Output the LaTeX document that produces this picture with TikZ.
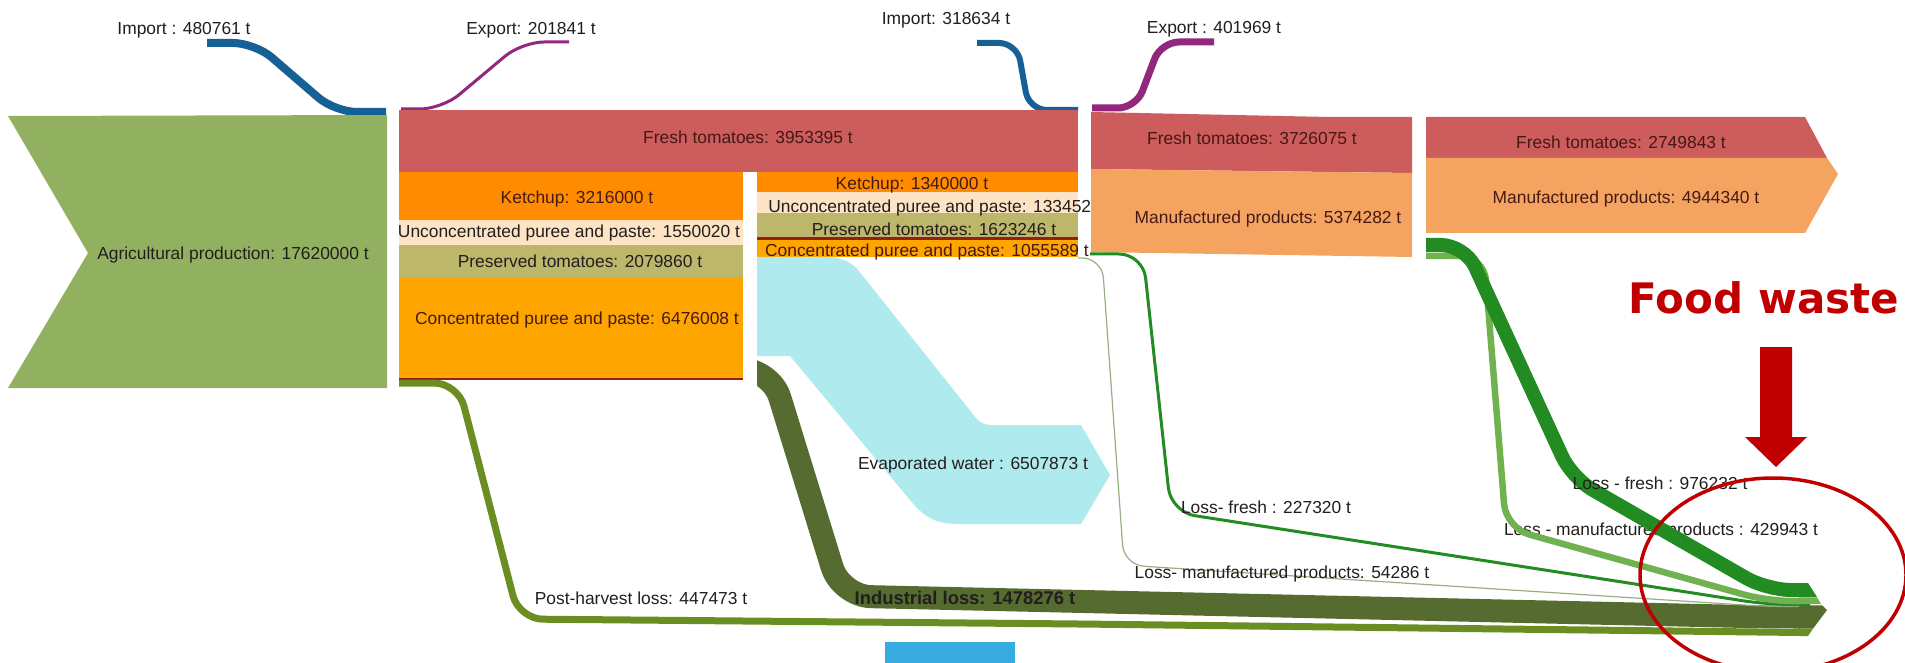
\documentclass[tikz,border=0pt]{standalone}
\usepackage{fontspec}
\setmainfont{Liberation Sans}
\newfontfamily\wastefont{DejaVu Sans}

\definecolor{cagri}{RGB}{146,177,96}
\definecolor{cfresh}{RGB}{205,92,92}
\definecolor{cketchup}{RGB}{255,140,0}
\definecolor{cunconc}{RGB}{252,228,196}
\definecolor{cpreserved}{RGB}{189,183,107}
\definecolor{cconc}{RGB}{255,165,0}
\definecolor{cmanuf}{RGB}{244,164,96}
\definecolor{cwater}{RGB}{175,234,238}
\definecolor{cindus}{RGB}{85,107,47}
\definecolor{cpost}{RGB}{107,142,35}
\definecolor{clossfresh}{RGB}{34,139,34}
\definecolor{clossmanuf}{RGB}{112,178,80}
\definecolor{cthinloss}{RGB}{150,175,130}
\definecolor{cimport}{RGB}{22,96,150}
\definecolor{cexport}{RGB}{145,40,125}
\definecolor{cdarkred}{RGB}{150,30,20}
\definecolor{cwaste}{RGB}{192,0,0}
\definecolor{cbluebox}{RGB}{56,172,224}
\definecolor{ctxt}{RGB}{35,30,30}
\definecolor{ctxtband}{RGB}{70,25,20}

\begin{document}
\begin{tikzpicture}[x=0.5pt,y=-0.5pt,
  lbl/.style={font=\fontsize{8.7pt}{10pt}\selectfont, text=ctxt,
    text height=6.2pt, text depth=0pt, inner sep=0pt},
  bandlbl/.style={lbl, text=ctxtband},
  trade/.style={line cap=butt, line join=round, rounded corners=11pt},
  flowline/.style={line cap=butt, line join=round, rounded corners=12pt}]

\useasboundingbox (0,0) rectangle (1905,663);
\clip (0,0) rectangle (1905,663);

% ---- trade flows (import / export) ----
\coordinate (imp1s) at (207,43);   \coordinate (imp1e) at (386,112);
\coordinate (exp1s) at (401,109);  \coordinate (exp1e) at (569,42);
\coordinate (imp2s) at (977,43);   \coordinate (imp2e) at (1078,110);
\coordinate (exp2s) at (1092,108); \coordinate (exp2e) at (1214,42);
\draw[trade, draw=cimport, line width=4pt] (imp1s) -- (255,43) -- (335,112) -- (imp1e);
\draw[trade, draw=cexport, line width=1.5pt] (exp1s) -- (442,109) -- (522,42) -- (exp1e);
\draw[trade, draw=cimport, line width=3pt, rounded corners=9pt] (imp2s) -- (1017,43) -- (1029,110) -- (imp2e);
\draw[trade, draw=cexport, line width=3.5pt, rounded corners=9pt] (exp2s) -- (1136,108) -- (1161,42) -- (exp2e);

% ---- agricultural production ----
\fill[cagri] (8,116) -- (387,115) -- (387,388) -- (8,388) -- (88,253) -- cycle;

% ---- first processing stage ----
\fill[cfresh] (399,110) rectangle (1078,172);
\fill[cketchup] (399,172) rectangle (743,220);
\fill[cunconc] (399,220) rectangle (743,245);
\fill[cpreserved] (399,245) rectangle (743,277);
\fill[cconc] (399,277) rectangle (743,378);
\fill[cdarkred] (399,378) rectangle (743,380);

% ---- second processing stage ----
\fill[cketchup] (757,172) rectangle (1078,192);
\fill[cunconc] (757,192) rectangle (1078,213);
\fill[cpreserved] (757,213) rectangle (1078,237);
\fill[cdarkred] (757,237) rectangle (1078,240);
\fill[cconc] (757,240) rectangle (1078,257);

% ---- evaporated water ----
\fill[cwater] (757,257) -- (827,257) .. controls (845,257) and (855,265) .. (862,275)
  -- (972,413) .. controls (978,421) and (982,425) .. (992,425) -- (1081,425)
  -- (1110,475) -- (1081,524) -- (960,524) .. controls (935,524) and (925,518) .. (910,500)
  -- (790,356) -- (757,356) -- cycle;

% ---- consumption stages ----
\fill[cfresh] (1091,112) -- (1330,117) -- (1412,117) -- (1412,173) -- (1091,169) -- cycle;
\fill[cmanuf] (1091,169) -- (1412,173) -- (1412,257) -- (1091,252) -- cycle;
\fill[cfresh] (1426,117) -- (1805,117) -- (1827,158) -- (1426,158) -- cycle;
\fill[cmanuf] (1426,158) -- (1827,158) -- (1838,174) -- (1805,233) -- (1426,233) -- cycle;

% ---- loss flows ----
\coordinate (phs) at (399,383);   \coordinate (phe) at (1800,632.5);
\coordinate (ils) at (730,369);   \coordinate (ile) at (1800,617);
\coordinate (lf1s) at (1090,254); \coordinate (lf1e) at (1810,604.5);
\coordinate (lm1s) at (1078,258); \coordinate (lm1e) at (1810,606.5);
\coordinate (lf2s) at (1426,245); \coordinate (lf2e) at (1800,590);
\coordinate (lm2s) at (1426,256); \coordinate (lm2e) at (1800,601);

\draw[flowline, draw=cpost, line width=3.5pt] (phs) -- (458,383) -- (519,619) -- (1080,624) -- (phe);
\begin{scope}
  \clip (757,300) rectangle (1800,663);
  \draw[flowline, draw=cindus, line width=11.5pt, rounded corners=15pt]
    (ils) -- (771,369) -- (841,596) -- (1767,617) -- (ile);
\end{scope}
\draw[flowline, draw=cthinloss, line width=0.6pt, rounded corners=10pt]
  (lm1s) -- (1102,258) -- (1124,565) -- (1767,606.5) -- (lm1e);
\draw[flowline, draw=clossfresh, line width=1.5pt]
  (lf1s) -- (1143,254) -- (1171,512) -- (1767,604.5) -- (lf1e);

\node[lbl] (llm2) at (1661,529) {Loss - manufactured products : 429943 t};

\draw[flowline, draw=clossmanuf, line width=3.25pt]
  (lm2s) -- (1484,256) -- (1506,528) -- (1767,601) -- (lm2e);
\draw[flowline, draw=clossfresh, line width=7pt]
  (lf2s) -- (1465,245) -- (1572,478) -- (1767,590) -- (lf2e);

% pointed ends of the merged losses
\fill[clossfresh] (1799,583) -- (1808,583) -- (1817,597) -- (1799,597) -- cycle;
\fill[clossmanuf] (1799,597.4) -- (1817,597.4) -- (1821,604) -- (1799,604) -- cycle;
\fill[cindus] (1799,605.3) -- (1822,605.3) -- (1827,610) -- (1813,628.7) -- (1799,628.7) -- cycle;
\fill[cpost] (1799,628.7) -- (1813,628.7) -- (1808,636) -- (1799,636) -- cycle;

% ---- labels ----
\node[lbl] (limp1) at (184,28) {Import : 480761 t};
\node[lbl] (lexp1) at (531,28) {Export: 201841 t};
\node[lbl] (limp2) at (946,18) {Import: 318634 t};
\node[lbl] (lexp2) at (1214,27) {Export : 401969 t};
\node[lbl] (lagri) at (233,253) {Agricultural production: 17620000 t};
\node[bandlbl] (lfr1) at (748,137) {Fresh tomatoes: 3953395 t};
\node[bandlbl] (lk1) at (577,197) {Ketchup: 3216000 t};
\node[lbl] (lu1) at (569,231) {Unconcentrated puree and paste: 1550020 t};
\node[lbl] (lp1) at (580,261) {Preserved tomatoes: 2079860 t};
\node[bandlbl] (lc1) at (577,318) {Concentrated puree and paste: 6476008 t};
\node[bandlbl] (lk2) at (912,183) {Ketchup: 1340000 t};
\node[lbl, anchor=west] (lu2) at (768,206) {Unconcentrated puree and paste: 133452};
\node[lbl] (lp2) at (934,229) {Preserved tomatoes: 1623246 t};
\node[bandlbl] (lc2) at (927,250) {Concentrated puree and paste: 1055589 t};
\node[bandlbl] (lfr3) at (1252,138) {Fresh tomatoes: 3726075 t};
\node[bandlbl] (lm3) at (1268,217) {Manufactured products: 5374282 t};
\node[bandlbl] (lfr4) at (1621,142) {Fresh tomatoes: 2749843 t};
\node[bandlbl] (lm4) at (1626,197) {Manufactured products: 4944340 t};
\node[lbl] (lwater) at (973,463) {Evaporated water : 6507873 t};
\node[lbl] (llf1) at (1266,507) {Loss- fresh : 227320 t};
\node[lbl] (llm1) at (1282,572) {Loss- manufactured products: 54286 t};
\node[lbl] (llf2) at (1660,483) {Loss - fresh : 976232 t};
\node[lbl] (lpost) at (641,598) {Post-harvest loss: 447473 t};
\node[lbl, font=\bfseries\fontsize{9.2pt}{11pt}\selectfont] (lind) at (965,598) {Industrial loss: 1478276 t};

% ---- food waste highlight ----
\node[font=\wastefont\bfseries\fontsize{21pt}{24pt}\selectfont, text=cwaste, inner sep=0pt]
  (waste) at (1764,298) {Food waste};
\fill[cwaste] (1760,347) -- (1792,347) -- (1792,437) -- (1807,437) -- (1776,467)
  -- (1745,437) -- (1760,437) -- cycle;
\draw[cwaste, line width=1.75pt] (1773,575) ellipse [x radius=66.5pt, y radius=48.5pt];

\fill[cbluebox] (885,642) rectangle (1015,663);
\end{tikzpicture}
\end{document}
